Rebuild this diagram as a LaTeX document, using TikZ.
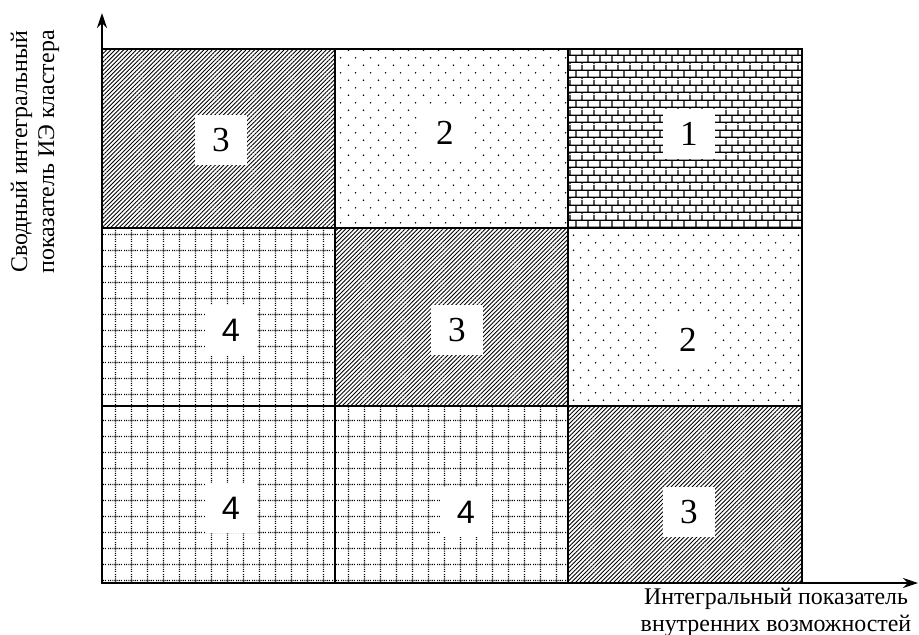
\documentclass[tikz,border=0pt]{standalone}
\usepackage{fontspec}
\setmainfont{Liberation Serif}
\newfontfamily\sansdigits{Liberation Sans}
\usetikzlibrary{patterns,patterns.meta,arrows.meta}

\tikzdeclarepattern{
  name=staggerdots,
  type=uncolored,
  bottom left={(0pt,0pt)},
  top right={(8.54pt,8.76pt)},
  tile size={(8.54pt,8.76pt)},
  code={
    \fill (2.1pt,2.2pt) circle (0.5pt);
    \fill (6.37pt,6.58pt) circle (0.5pt);
  }
}
\tikzdeclarepattern{
  name=brickwall,
  type=uncolored,
  bottom left={(0pt,0pt)},
  top right={(7.1pt,8.54pt)},
  tile size={(7.1pt,8.54pt)},
  code={
    \draw[line width=0.75pt] (0pt,1.07pt) -- (7.1pt,1.07pt) (0pt,5.34pt) -- (7.1pt,5.34pt)
      (1.78pt,1.07pt) -- (1.78pt,5.34pt)
      (5.33pt,5.34pt) -- (5.33pt,8.54pt) (5.33pt,0pt) -- (5.33pt,1.07pt);
  }
}
\tikzdeclarepattern{
  name=dotgrid,
  type=uncolored,
  bottom left={(0pt,0pt)},
  top right={(8.82pt,8.82pt)},
  tile size={(8.82pt,8.82pt)},
  code={
    \draw[line width=0.65pt, dash pattern=on 0.63pt off 0.63pt]
      (0pt,4.41pt) -- (8.82pt,4.41pt) (4.41pt,0pt) -- (4.41pt,8.82pt);
  }
}

\tikzset{
  hatch/.style={pattern={Lines[angle=45,distance=1.7pt,line width=0.5pt]}},
  sparse/.style={pattern=staggerdots},
  brick/.style={pattern=brickwall},
  squares/.style={pattern=dotgrid},
  cellline/.style={line width=1.1pt},
  axis/.style={line width=0.85pt,-{Stealth[length=3mm,width=2mm]}},
  numbox/.style={fill=white,inner sep=0pt,minimum width=10.4mm,minimum height=10mm,
    font=\fontsize{20}{20}\selectfont},
  sansbox/.style={numbox,font=\sansdigits\fontsize{18.5}{18.5}\selectfont},
  axislabel/.style={align=center,font=\fontsize{13.6}{15.3}\selectfont}
}

\begin{document}
\begin{tikzpicture}[x=0.2mm,y=-0.2mm]
\useasboundingbox (0,0) rectangle (919,634);

\fill[hatch] (102,49) rectangle (335,228);
\fill[sparse] (335,49) rectangle (568,228);
\fill[brick] (568,49) rectangle (802,228);
\fill[squares] (102,228) rectangle (335,406);
\fill[hatch] (335,228) rectangle (568,406);
\fill[sparse] (568,228) rectangle (802,406);
\fill[squares] (102,406) rectangle (335,583);
\fill[squares] (335,406) rectangle (568,583);
\fill[hatch] (568,406) rectangle (802,583);

\draw[cellline] (102,49) rectangle (802,583);
\foreach \x in {335,568}
  \draw[cellline] (\x,49) -- (\x,583);
\foreach \y in {228,406}
  \draw[cellline] (102,\y) -- (802,\y);

\coordinate (origin) at (102,583);
\coordinate (ytip) at (102,13);
\coordinate (xtip) at (918,583);
\draw[axis] (origin) -- (ytip);
\draw[axis] (origin) -- (xtip);

\node[numbox] (c11) at (221,140) {3};
\node[numbox] (c12) at (445,133) {2};
\node[numbox] (c13) at (689,134) {1};
\node[sansbox] (c21) at (231,330) {4};
\node[numbox] (c22) at (457,330) {3};
\node[numbox] (c23) at (688,340) {2};
\node[sansbox] (c31) at (231,508) {4};
\node[sansbox] (c32) at (466,512) {4};
\node[numbox] (c33) at (689,512) {3};

\node[axislabel,rotate=90] (ylabel) at (35,152) {Сводный интегральный\\показатель ИЭ кластера};
\node[axislabel] (xlabel) at (776,612) {Интегральный показатель\\внутренних возможностей};
\end{tikzpicture}
\end{document}
